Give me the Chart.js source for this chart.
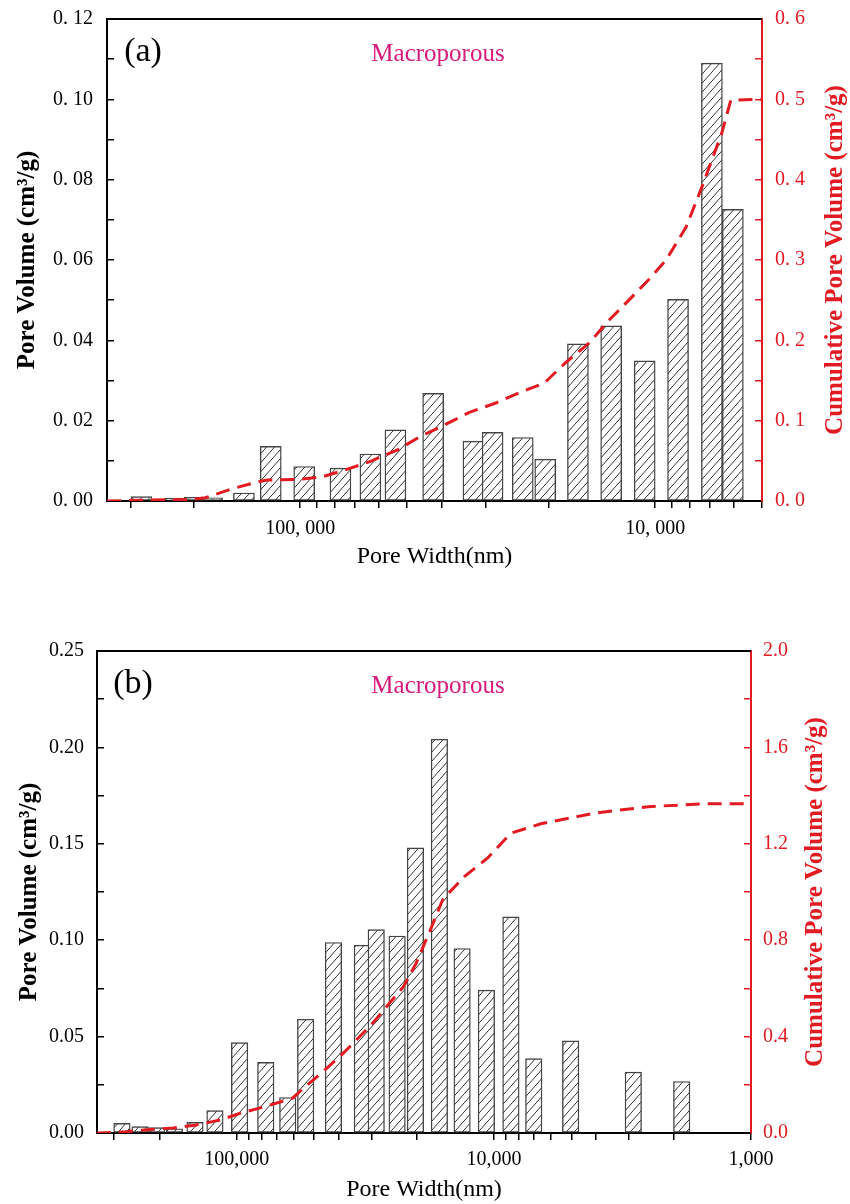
<!DOCTYPE html>
<html>
<head>
<meta charset="utf-8">
<script src="https://cdn.jsdelivr.net/npm/chart.js@4.4.1/dist/chart.umd.min.js"></script>
<style>
body { margin: 0; background: #fff; }
canvas { position: absolute; left: 0; }
#chartA { top: 0; }
#chartB { top: 590px; }
</style>
</head>
<body>
<canvas id="chartA" width="850" height="590"></canvas>
<canvas id="chartB" width="850" height="614"></canvas>
<script>
// panel (a)
const barWidthA = [280000, 224000, 198000, 177000, 144000, 121000, 97400, 77000, 63400, 53900, 42200, 32500, 28700, 23600, 20400, 16500, 13300, 10700, 8620, 6920, 6040];
const poreVolA = [0.0011, 0.0007, 0.0009, 0.0008, 0.0020, 0.0136, 0.0086, 0.0082, 0.0117, 0.0177, 0.0268, 0.0149, 0.0171, 0.0158, 0.0104, 0.0391, 0.0436, 0.0349, 0.0502, 0.1090, 0.0726];
const cumWidthA = [350000, 281000, 204000, 185000, 156000, 134000, 124000, 100000, 86700, 74300, 63600, 53000, 46000, 39900, 33500, 28100, 24100, 20500, 17900, 15300, 13700, 11800, 10400, 9310, 8180, 7380, 6490, 6120, 5000];
const cumVolA = [0.000, 0.001, 0.002, 0.004, 0.015, 0.023, 0.026, 0.027, 0.030, 0.039, 0.049, 0.064, 0.080, 0.093, 0.110, 0.122, 0.135, 0.147, 0.172, 0.197, 0.222, 0.251, 0.276, 0.300, 0.341, 0.391, 0.458, 0.499, 0.500];

// panel (b)
const barWidthB = [280000, 238000, 205000, 175000, 145500, 121700, 97600, 77200, 63400, 54000, 42100, 32500, 28700, 23800, 20200, 16300, 13300, 10700, 8590, 7000, 5030, 2870, 1860];
const poreVolB = [0.0050, 0.0033, 0.0028, 0.0022, 0.0055, 0.0116, 0.0469, 0.0366, 0.0184, 0.0590, 0.0988, 0.0974, 0.1055, 0.1022, 0.1479, 0.2042, 0.0957, 0.0741, 0.1121, 0.0386, 0.0478, 0.0316, 0.0267];
const cumWidthB = [350000, 272000, 215000, 177000, 144000, 116000, 96500, 77200, 60700, 55000, 46800, 39500, 34000, 29400, 25500, 22500, 20100, 17700, 15800, 13000, 10600, 8590, 6570, 4060, 2510, 1530, 1000];
const cumVolB = [0.000, 0.005, 0.015, 0.021, 0.033, 0.054, 0.083, 0.110, 0.145, 0.186, 0.250, 0.320, 0.390, 0.460, 0.538, 0.607, 0.703, 0.841, 0.970, 1.065, 1.140, 1.244, 1.283, 1.327, 1.354, 1.366, 1.366];

const xLabelsA = { 100000: "100, 000", 10000: "10, 000" };
const xLabelsB = { 100000: "100,000", 10000: "10,000", 1000: "1,000" };

const RED = "#e21b22";
const SERIF = '"Liberation Serif", "Times New Roman", serif';

function hatchPattern() {
    const c = document.createElement("canvas");
    c.width = 8;
    c.height = 9;
    const g = c.getContext("2d");
    g.fillStyle = "#fff";
    g.fillRect(0, 0, 8, 9);
    g.strokeStyle = "#333";
    g.lineWidth = 1;
    g.beginPath();
    for (let k = 0; k < 3; k++) {
        g.moveTo(8 * k + 4, -4.5);
        g.lineTo(8 * k - 12, 13.5);
    }
    g.stroke();
    return g.createPattern(c, "repeat");
}

function pts(xs, ys) {
    return xs.map((x, i) => ({ x: x, y: ys[i] }));
}

function keepWhole(axis) {
    axis.ticks = axis.ticks.filter(t => {
        const m = t.value / Math.pow(10, Math.floor(Math.log10(t.value) + 1e-9));
        return Math.abs(m - Math.round(m)) < 1e-6;
    });
}

const panelText = {
    id: "panelText",
    afterDraw(chart, args, o) {
        const ctx = chart.ctx, a = chart.chartArea;
        ctx.save();
        ctx.strokeStyle = "#000";
        ctx.lineWidth = 2;
        ctx.beginPath();
        ctx.moveTo(a.left, a.top);
        ctx.lineTo(a.right, a.top);
        ctx.stroke();
        ctx.textAlign = "center";
        ctx.textBaseline = "middle";
        ctx.fillStyle = "#000";
        ctx.font = "34px " + SERIF;
        ctx.fillText(o.tag, a.left + 36, a.top + 33);
        ctx.fillStyle = "#d81b7b";
        ctx.font = "25px " + SERIF;
        ctx.fillText("Macroporous", o.noteX, a.top + 35);
        ctx.translate(o.titleX, (a.top + a.bottom) / 2);
        ctx.rotate(-Math.PI / 2);
        ctx.fillStyle = RED;
        ctx.font = "bold 25px " + SERIF;
        ctx.fillText("Cumulative Pore Volume (cm\u00b3/g)", 0, 0);
        ctx.restore();
    }
};

function makeChart(id, p) {
    return new Chart(document.getElementById(id), {
        type: "bar",
        data: {
            datasets: [
                { type: "line", data: pts(p.cumX, p.cumY), yAxisID: "y1", borderColor: RED, borderWidth: 3, borderDash: [14, 8], pointRadius: 0, fill: false, tension: 0, order: 0 },
                { type: "bar", data: pts(p.barX, p.barY), yAxisID: "y", backgroundColor: hatchPattern(), borderColor: "#444", borderWidth: 1.4, borderSkipped: false, barThickness: p.barW, order: 1 }
            ]
        },
        options: {
            responsive: false,
            animation: false,
            layout: { padding: { top: p.top } },
            plugins: {
                legend: { display: false },
                tooltip: { enabled: false },
                panelText: { tag: p.tag, noteX: 438, titleX: p.rTitleX }
            },
            scales: {
                x: {
                    type: "logarithmic", reverse: true, min: p.xMin, max: p.xMax, offset: false,
                    afterBuildTicks: keepWhole,
                    afterFit: s => { s.height = p.xH; },
                    border: { color: "#000", width: 2 },
                    grid: { offset: false, drawOnChartArea: false, color: "#000", lineWidth: 1.5, tickLength: 7 },
                    ticks: { autoSkip: false, maxRotation: 0, color: "#000", padding: p.xPad, font: { family: SERIF, size: 20 }, callback: v => p.xLabels[v] || "" },
                    title: { display: true, text: "Pore Width(nm)", color: "#000", font: { family: SERIF, size: 24 }, padding: { top: 0, bottom: p.xTitlePad } }
                },
                y: {
                    position: "left", min: 0, max: p.yMax,
                    afterFit: s => { s.width = p.yW; s.paddingTop = 0; s.paddingBottom = 0; },
                    border: { color: "#000", width: 2 },
                    grid: { drawOnChartArea: false, color: "#000", lineWidth: 1.5, tickLength: -7 },
                    ticks: { stepSize: p.yStep, maxTicksLimit: 100, color: "#000", padding: p.yPad, font: { family: SERIF, size: 20 }, callback: p.yFmt },
                    title: { display: true, text: "Pore Volume (cm\u00b3/g)", color: "#000", font: { family: SERIF, size: 25, weight: "bold" }, padding: { top: p.yTitlePad, bottom: 0 } }
                },
                y1: {
                    position: "right", min: 0, max: p.y1Max,
                    afterFit: s => { s.width = p.y1W; s.paddingTop = 0; s.paddingBottom = 0; },
                    border: { color: RED, width: 2 },
                    grid: { drawOnChartArea: false, color: RED, lineWidth: 1.5, tickLength: -7 },
                    ticks: { stepSize: p.y1Step, maxTicksLimit: 100, color: RED, padding: p.y1Pad, font: { family: SERIF, size: 20 }, callback: p.y1Fmt }
                }
            }
        },
        plugins: [panelText]
    });
}

makeChart("chartA", {
    tag: "(a)", barX: barWidthA, barY: poreVolA, cumX: cumWidthA, cumY: cumVolA, barW: 21,
    top: 19, xMin: 5000, xMax: 350000, xH: 89, xPad: 9, xTitlePad: 18.6, xLabels: xLabelsA,
    yMax: 0.12, yStep: 0.01, yW: 107, yPad: 21, yTitlePad: 13,
    yFmt: v => (Math.round(v * 100) % 2 === 0 ? "0. " + String(Math.round(v * 100)).padStart(2, "0") : ""),
    y1Max: 0.6, y1Step: 0.05, y1W: 88, y1Pad: 20, rTitleX: 836,
    y1Fmt: v => (Math.round(v * 100) % 10 === 0 ? "0. " + Math.round(v * 10) : "")
});

makeChart("chartB", {
    tag: "(b)", barX: barWidthB, barY: poreVolB, cumX: cumWidthB, cumY: cumVolB, barW: 16.5,
    top: 61, xMin: 1000, xMax: 350000, xH: 71, xPad: 8, xTitlePad: 0, xLabels: xLabelsB,
    yMax: 0.25, yStep: 0.025, yW: 97, yPad: 20, yTitlePad: 15,
    yFmt: v => (Math.round(v * 1000) % 50 === 0 ? v.toFixed(2) : ""),
    y1Max: 2.0, y1Step: 0.2, y1W: 99, y1Pad: 19, rTitleX: 816,
    y1Fmt: v => (Math.round(v * 10) % 4 === 0 ? v.toFixed(1) : "")
});
</script>
</body>
</html>
